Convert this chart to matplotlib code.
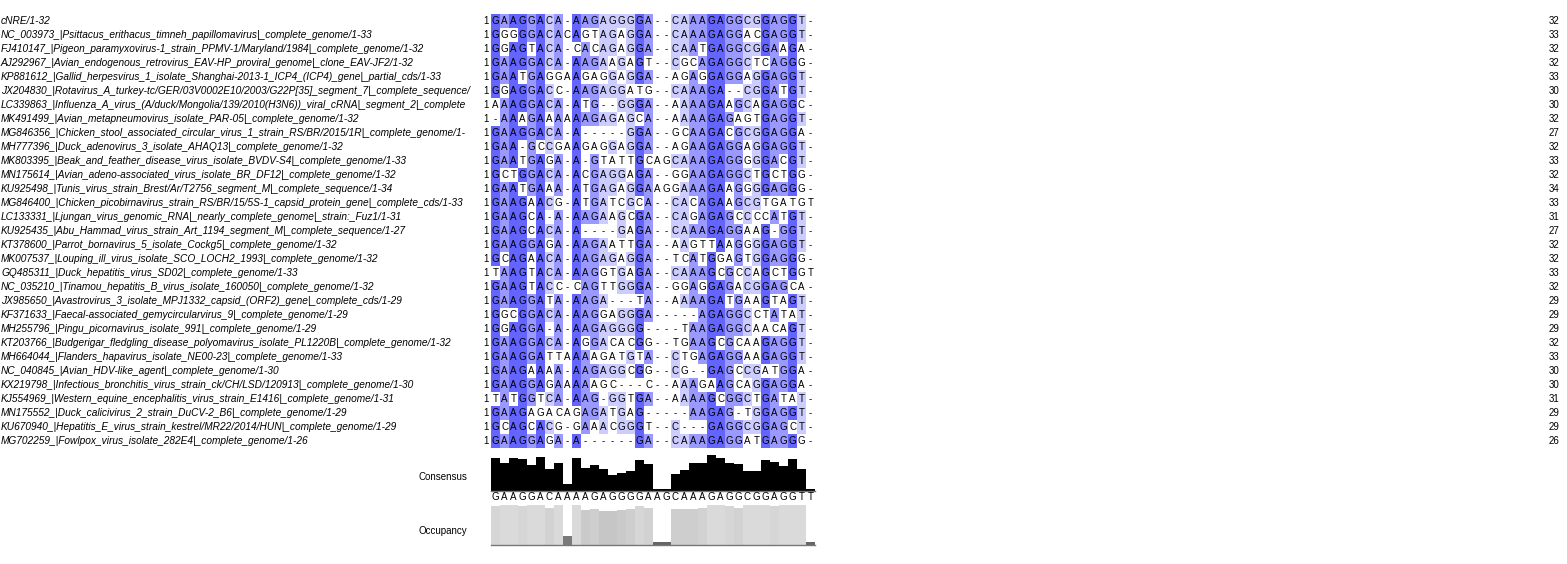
import matplotlib
matplotlib.use("Agg")
import matplotlib.pyplot as plt
from matplotlib.patches import Rectangle
import numpy as np

# ==========================
# Alignment data
# ==========================
names = [
    "cNRE/1-32",
    "NC_003973_|Psittacus_erithacus_timneh_papillomavirus|_complete_genome/1-33",
    "FJ410147_|Pigeon_paramyxovirus-1_strain_PPMV-1/Maryland/1984|_complete_genome/1-32",
    "AJ292967_|Avian_endogenous_retrovirus_EAV-HP_proviral_genome|_clone_EAV-JF2/1-32",
    "KP881612_|Gallid_herpesvirus_1_isolate_Shanghai-2013-1_ICP4_(ICP4)_gene|_partial_cds/1-33",
    "JX204830_|Rotavirus_A_turkey-tc/GER/03V0002E10/2003/G22P[35]_segment_7|_complete_sequence/1-30",
    "LC339863_|Influenza_A_virus_(A/duck/Mongolia/139/2010(H3N6))_viral_cRNA|_segment_2|_complete_sequence/1-30",
    "MK491499_|Avian_metapneumovirus_isolate_PAR-05|_complete_genome/1-32",
    "MG846356_|Chicken_stool_associated_circular_virus_1_strain_RS/BR/2015/1R|_complete_genome/1-27",
    "MH777396_|Duck_adenovirus_3_isolate_AHAQ13|_complete_genome/1-32",
    "MK803395_|Beak_and_feather_disease_virus_isolate_BVDV-S4|_complete_genome/1-33",
    "MN175614_|Avian_adeno-associated_virus_isolate_BR_DF12|_complete_genome/1-32",
    "KU925498_|Tunis_virus_strain_Brest/Ar/T2756_segment_M|_complete_sequence/1-34",
    "MG846400_|Chicken_picobirnavirus_strain_RS/BR/15/5S-1_capsid_protein_gene|_complete_cds/1-33",
    "LC133331_|Ljungan_virus_genomic_RNA|_nearly_complete_genome|_strain:_Fuz1/1-31",
    "KU925435_|Abu_Hammad_virus_strain_Art_1194_segment_M|_complete_sequence/1-27",
    "KT378600_|Parrot_bornavirus_5_isolate_Cockg5|_complete_genome/1-32",
    "MK007537_|Louping_ill_virus_isolate_SCO_LOCH2_1993|_complete_genome/1-32",
    "GQ485311_|Duck_hepatitis_virus_SD02|_complete_genome/1-33",
    "NC_035210_|Tinamou_hepatitis_B_virus_isolate_160050|_complete_genome/1-32",
    "JX985650_|Avastrovirus_3_isolate_MPJ1332_capsid_(ORF2)_gene|_complete_cds/1-29",
    "KF371633_|Faecal-associated_gemycircularvirus_9|_complete_genome/1-29",
    "MH255796_|Pingu_picornavirus_isolate_991|_complete_genome/1-29",
    "KT203766_|Budgerigar_fledgling_disease_polyomavirus_isolate_PL1220B|_complete_genome/1-32",
    "MH664044_|Flanders_hapavirus_isolate_NE00-23|_complete_genome/1-33",
    "NC_040845_|Avian_HDV-like_agent|_complete_genome/1-30",
    "KX219798_|Infectious_bronchitis_virus_strain_ck/CH/LSD/120913|_complete_genome/1-30",
    "KJ554969_|Western_equine_encephalitis_virus_strain_E1416|_complete_genome/1-31",
    "MN175552_|Duck_calicivirus_2_strain_DuCV-2_B6|_complete_genome/1-29",
    "KU670940_|Hepatitis_E_virus_strain_kestrel/MR22/2014/HUN|_complete_genome/1-29",
    "MG702259_|Fowlpox_virus_isolate_282E4|_complete_genome/1-26",
]

seqs = [
    "GAAGGACA-AAGAGGGGA--CAAAGAGGCGGAGGT-",
    "GGGGGACACAGTAGAGGA--CAAAGAGGACGAGGT-",
    "GGAGTACA-CACAGAGGA--CAATGAGGCGGAAGA-",
    "GAAGGACA-AAGAAGAGT--CGCAGAGGCTCAGGG-",
    "GAATGAGGAAGAGGAGGA--AGAGGAGGAGGAGGT-",
    "GGAGGACC-AAGAGGATG--CAAAGA--CGGATGT-",
    "AAAGGACA-ATG--GGGA--AAAAGAAGCAGAGGC-",
    "-AAAGAAAAAAGAGAGCA--AAAAGAGAGTGAGGT-",
    "GAAGGACA-A-----GGA--GCAAGACGCGGAGGA-",
    "GAA-GCCGAAGAGGAGGA--AGAAGAGGAGGAGGT-",
    "GAATGAGA-A-GTATTGCAGCAAAGAGGGGGACGT-",
    "GCTGGACA-ACGAGGAGA--GGAAGAGGCTGCTGG-",
    "GAATGAAA-ATGAGAGGAAGGAAAGAAGGGGAGGG-",
    "GAAGAACG-ATGATCGCA--CACAGAAGCGTGATGT",
    "GAAGCA-A-AAGAAGCGA--CAGAGAGCCCCATGT-",
    "GAAGCACA-A----GAGA--CAAAGAGGAAG-GGT-",
    "GAAGGAGA-AAGAATTGA--AAGTTAAGGGGAGGT-",
    "GCAGAACA-AAGAGAGGA--TCATGGAGTGGAGGG-",
    "TAAGTACA-AAGGTGAGA--CAAAGCGCCAGCTGGT",
    "GAAGTACC-CAGTTGGGA--GGAGGAGACGGAGCA-",
    "GAAGGATA-AAGA---TA--AAAAGATGAAGTAGT-",
    "GGCGGACA-AAGGAGGGA-----AGAGGCCTATAT-",
    "GGAGGA-A-AAGAGGGG----TAAGAGGCAACAGT-",
    "GAAGGACA-AGGACACGG--TGAAGCGCAAGAGGT-",
    "GAAGGATTAAAAGATGTA--CTGAGAGGAAGAGGT-",
    "GAAGAAAA-AAGAGGCGG--CG--GAGCCGATGGA-",
    "GAAGGAGAAAAAGC---C--AAAGAAGCAGGAGGA-",
    "TATGGTCA-AAG-GGTGA--AAAAGCGGCTGATAT-",
    "GAAGAGACAGAGATGAG-----AAGAG-TGGAGGT-",
    "GCAGCACG-GAAACGGGT--C---GAGGCGGAGCT-",
    "GAAGGAGA-A------GA--CAAAGAGGATGAGGG-",
]

starts = [1] * len(seqs)
ends = [32, 33, 32, 32, 33, 30, 30, 32, 27, 32, 33, 32, 34, 33, 31, 27,
        32, 32, 33, 32, 29, 29, 29, 32, 33, 30, 30, 31, 29, 29, 26]

# ==========================
# Consensus / percent identity per column
# ==========================
n_seq = len(seqs)
n_col = len(seqs[0])
cols = [[s[j] for s in seqs] for j in range(n_col)]

consensus = []
pct = []
occupancy = []
for c in cols:
    res = [r for r in c if r != "-"]
    counts = {r: res.count(r) for r in set(res)}
    best = max(counts.values())
    modal = sorted([r for r in counts if counts[r] == best])
    consensus.append(modal)
    pct.append(100.0 * best / n_seq)
    occupancy.append(len(res) / n_seq)


def pid_colour(p):
    if p > 80:
        return "#6464ff"
    if p > 60:
        return "#9999ff"
    if p > 40:
        return "#ccccff"
    return None


# ==========================
# Plotting
# ==========================
W, H = 1567, 564
fig = plt.figure(figsize=(W / 100, H / 100), dpi=100)
ax = fig.add_axes([0, 0, 1, 1])
ax.set_xlim(0, W)
ax.set_ylim(H, 0)
ax.axis("off")
renderer = fig.canvas.get_renderer()

x0, cw = 491, 9
y0, rh = 21, 14
font = "Liberation Sans"
name_right = 471

for i, s in enumerate(seqs):
    yc = y0 + i * rh
    # names panel is cut off at its right edge, like the reference
    label = names[i]
    t = ax.text(1, yc + 3.5, label, fontsize=7.3, style="italic",
                family=font, va="baseline", ha="left")
    while ax.transData.inverted().transform(
            (t.get_window_extent(renderer).x1, 0))[0] > name_right:
        label = label[:-1]
        t.set_text(label)
    ax.text(489, yc + 3.5, str(starts[i]), fontsize=7, family=font,
            va="baseline", ha="right")
    ax.text(1549, yc + 3.5, str(ends[i]), fontsize=7, family=font,
            va="baseline", ha="left")
    for j, r in enumerate(s):
        if r != "-" and r in consensus[j]:
            colour = pid_colour(pct[j])
            if colour:
                ax.add_patch(Rectangle((x0 + j * cw, yc - rh / 2), cw, rh,
                                       facecolor=colour, edgecolor="none"))
        ax.text(x0 + j * cw + cw / 2, yc + 3.5, r, fontsize=7, family=font,
                va="baseline", ha="center", color="black")

# consensus histogram
cons_base, cons_h = 491, 38
for j in range(n_col):
    h = cons_h * pct[j] / 100
    ax.add_patch(Rectangle((x0 + j * cw, cons_base - h), cw, h,
                           facecolor="black", edgecolor="none"))
    ax.text(x0 + j * cw + cw / 2, 500.5, consensus[j][0], fontsize=7,
            family=font, va="baseline", ha="center")
ax.plot([x0, x0 + n_col * cw], [cons_base, cons_base], color="#777777", lw=1)
ax.text(467, 476 + 3.5, "Consensus", fontsize=7, family=font,
        va="baseline", ha="right")

# occupancy
occ_base, occ_h = 545, 40
for j in range(n_col):
    f = occupancy[j]
    g = (94 + 124 * f) / 255
    h = occ_h * f
    ax.add_patch(Rectangle((x0 + j * cw, occ_base - h), cw, h,
                           facecolor=(g, g, g), edgecolor="none"))
ax.plot([x0, x0 + n_col * cw], [occ_base, occ_base], color="#777777", lw=1)
ax.text(467, 530 + 3.5, "Occupancy", fontsize=7, family=font,
        va="baseline", ha="right")

fig.savefig("out.png", dpi=100)
